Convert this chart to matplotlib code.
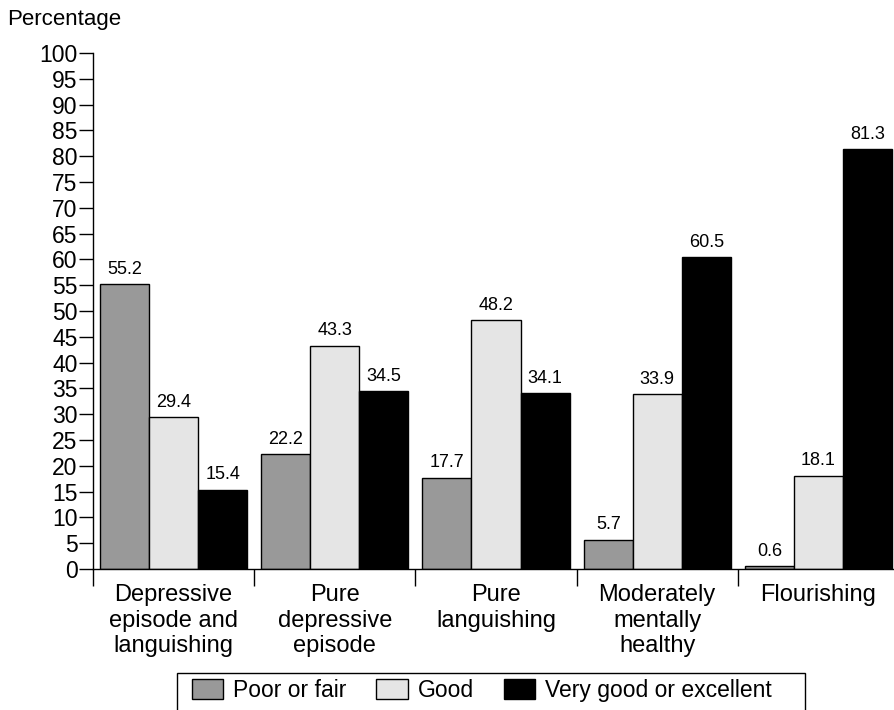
import numpy as np
import matplotlib.pyplot as plt
from matplotlib.patches import Patch, Rectangle

plt.rcParams['font.family'] = ['Liberation Sans', 'DejaVu Sans']

categories = ["Depressive\nepisode and\nlanguishing", "Pure\ndepressive\nepisode",
              "Pure\nlanguishing", "Moderately\nmentally\nhealthy", "Flourishing"]
series = ["Poor or fair", "Good", "Very good or excellent"]
poor = [55.2, 22.2, 17.7, 5.7, 0.6]
good = [29.4, 43.3, 48.2, 33.9, 18.1]
very_good = [15.4, 34.5, 34.1, 60.5, 81.3]
colors = ["#999999", "#e5e5e5", "#000000"]

fig = plt.figure(figsize=(8.95, 7.10), dpi=100)
ax = fig.add_axes([93 / 895, 1 - 569 / 710, 806 / 895, (569 - 53) / 710])

x = np.arange(len(categories))
w = 0.304
for i, (vals, c) in enumerate(zip([poor, good, very_good], colors)):
    pos = x + (i - 1) * w
    ax.bar(pos, vals, width=w, color=c, edgecolor="black", linewidth=1)
    for p, v in zip(pos, vals):
        ax.text(p, v + 1.2, f"{v:.1f}", ha="center", va="bottom", fontsize=13)

ax.set_xlim(-0.5, len(categories) - 0.5)
ax.set_ylim(0, 100)
ax.set_yticks(np.arange(0, 101, 5))
ax.tick_params(axis="y", labelsize=16.5, length=10, width=1, pad=1)
ax.set_xticks(np.arange(-0.5, len(categories), 1.0))
ax.set_xticklabels([])
ax.tick_params(axis="x", length=12, width=1, direction="out")
for xi, lab in zip(x, categories):
    ax.text(xi, -3.0, lab, ha="center", va="top", fontsize=17, linespacing=1.2)
ax.spines["top"].set_visible(False)
ax.spines["right"].set_visible(False)
for s in ("left", "bottom"):
    ax.spines[s].set_linewidth(1)

fig.text(7 / 895, 1 - 19 / 710, "Percentage", ha="left", va="center", fontsize=16)

# legend entries without their own frame; the box is drawn separately
handles = [Patch(facecolor=c, edgecolor="black", linewidth=1) for c in colors]
leg = fig.legend(handles, series, ncol=3, loc="upper left",
                 bbox_to_anchor=(192 / 895, 1 - 679 / 710), fontsize=16.5,
                 frameon=False, handlelength=1.36, handleheight=0.96,
                 handletextpad=0.44, columnspacing=1.3, borderpad=0,
                 borderaxespad=0)
fig.patches.append(Rectangle((177 / 895, -0.02), (805 - 177) / 895, 0.02 + 1 - 673 / 710,
                             transform=fig.transFigure, fill=False,
                             edgecolor="black", linewidth=1))

fig.savefig("out.png", dpi=100)
